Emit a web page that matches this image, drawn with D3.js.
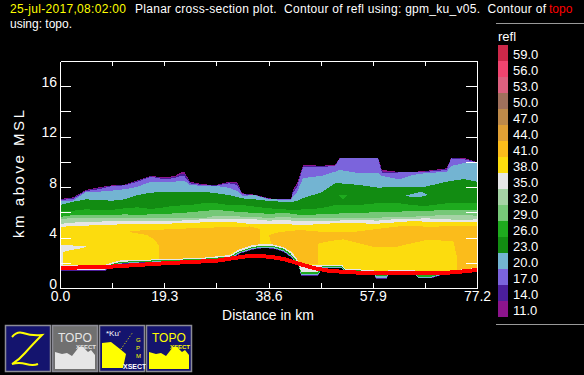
<!DOCTYPE html>
<html>
<head>
<meta charset="utf-8">
<style>
  html, body { margin: 0; padding: 0; background: #000; overflow: hidden; }
  svg { display: block; }
  text { font-family: "Liberation Sans", sans-serif; fill: #fff; white-space: pre; }
</style>
<script src="https://cdn.jsdelivr.net/npm/d3@7"></script>
</head>
<body>
<svg width="584" height="375"></svg>
<script>
// legend
const levels = ["59.0","56.0","53.0","50.0","47.0","44.0","41.0","38.0","35.0","32.0","29.0","26.0","23.0","20.0","17.0","14.0","11.0"]
const levelColors = ["#CC2849","#F0446F","#DC607F","#A0705C","#BE8A4A","#E0A035","#FBBC1B","#FCDC0E","#E6E6E6","#A5D3A5","#76C878","#1EAA1E","#128C12","#73B4D2","#7B64DC","#4B1E9B","#8C148C"]

// distance along the section (km) where the band tops were read
const dist = [0,2.4,4.8,7.2,9.6,12,14.4,16.8,19.3,21.3,22.2,23,24.1,26.5,28.9,31.3,32.8,33.7,36.1,38.7,41.1,42.8,43.1,43.9,45,48.3,50.9,51.8,55.5,58.9,59.6,62.8,65.2,67.6,71.6,72.4,74.8,77.2]

// top of each reflectivity band, km above MSL
const top11 = [7.06,7.18,7.77,7.99,8.14,8.19,8.56,8.88,8.78,8.88,9.14,9.2,8.43,8.22,8.17,8.43,8.43,7.51,7.4,7.11,7.03,7.03,7.77,8.33,9.75,9.7,9.75,10.31,10.31,10.31,9.36,9.2,9.2,9.28,9.49,10.31,10.31,9.97]
const top14 = [7.02,7.14,7.73,7.93,8.11,8.17,8.51,8.85,8.7,8.8,9.0,9.08,8.37,8.18,8.14,8.37,8.33,7.47,7.37,7.09,7.03,7.03,7.69,8.17,9.67,9.66,9.71,10.29,10.29,10.29,9.24,9.17,9.17,9.24,9.44,10.29,10.26,9.96]
const top17 = [6.98,7.06,7.69,7.83,8.09,8.14,8.43,8.83,8.62,8.72,8.88,8.88,8.3,8.14,8.12,8.3,8.17,7.43,7.37,7.07,7.02,7.02,7.53,8.01,9.6,9.6,9.67,10.27,10.27,10.27,9.12,9.16,9.16,9.2,9.36,10.27,10.21,9.95]
const top20 = [6.9,6.92,7.61,7.64,7.72,7.83,8.03,8.43,8.41,8.43,8.49,8.49,8.17,8.09,8.09,7.95,7.69,7.32,7.35,7.03,7.01,7.01,7.24,7.61,8.72,8.88,9.22,9.36,9.1,9.14,8.88,8.62,8.96,9.1,9.22,9.67,9.91,9.89]
const top23 = [6.58,6.84,7.03,6.98,6.92,7.03,7.37,7.56,7.61,7.64,7.64,7.64,7.64,7.64,7.51,7.37,7.22,7.11,7.03,6.9,6.84,6.84,6.84,6.9,7.14,7.56,8.3,8.3,8.17,7.95,7.97,8.03,7.99,8.03,8.43,8.49,8.64,8.43]
const top26 = [6.11,6.13,6.24,6.19,6.19,6.32,6.4,6.26,6.4,6.53,6.54,6.56,6.58,6.72,6.72,6.58,6.58,6.58,6.45,6.32,6.24,6.2,6.19,6.19,6.24,6.32,6.58,6.58,6.58,6.74,6.74,6.72,6.58,6.5,6.72,6.72,6.72,6.72]
const top29 = [5.63,5.79,5.79,5.79,5.79,5.84,5.79,5.84,5.87,5.92,5.95,5.97,6.0,6.11,6.19,6.11,6.03,6.0,5.97,5.87,5.95,5.9,5.87,5.83,5.79,5.84,5.87,5.91,5.92,6.05,6.05,6.05,6.11,6.11,6.19,6.19,6.19,6.19]
const top32 = [5.47,5.55,5.57,5.55,5.55,5.57,5.57,5.57,5.57,5.53,5.53,5.53,5.53,5.53,5.73,5.71,5.69,5.65,5.65,5.53,5.67,5.6,5.55,5.55,5.53,5.53,5.53,5.53,5.53,5.53,5.59,5.65,5.65,5.71,5.79,5.79,5.79,5.73]
const top35 = [5.08,5.18,5.26,5.26,5.31,5.34,5.34,5.34,5.34,5.34,5.34,5.37,5.39,5.45,5.45,5.45,5.45,5.45,5.45,5.34,5.39,5.35,5.34,5.34,5.31,5.34,5.34,5.35,5.39,5.34,5.39,5.47,5.47,5.53,5.45,5.43,5.39,5.45]
const top38 = [4.84,4.92,4.94,5.0,5.0,5.08,5.08,5.08,5.08,5.13,5.13,5.13,5.13,5.21,5.21,5.26,5.19,5.13,5.08,5.08,5.11,5.05,5.0,5.0,4.97,5.08,5.13,5.13,5.13,5.08,5.15,5.21,5.31,5.26,5.23,5.23,5.26,5.21]

// echo bottom above the terrain, same idea going outward to inward
const baseDist = [0,8.3,9.6,11.1,13.9,25.9,31.5,33.3,35.7,37.6,39.4,41.3,42.6,43.5,44.2,44.6,47.8,48.5,52.2,52.8,58.1,58.5,60.5,60.9,65.5,66.3,68.9,71.3,77.2]
const base35 = [1.82,1.82,2.02,2.18,2.22,2.38,2.62,3.09,3.41,3.49,3.45,3.25,2.93,2.54,2.06,1.82,1.82,1.86,1.86,1.51,1.43,1.27,1.27,1.43,1.43,1.27,1.27,1.35,1.59]
const base26 = [1.43,1.43,1.9,2.06,2.14,2.3,2.5,2.93,3.25,3.37,3.33,3.13,2.78,2.34,1.9,1.27,1.27,1.74,1.74,1.43,1.35,1.11,1.11,1.35,1.35,1.03,1.03,1.27,1.51]
const base20 = [1.43,1.43,1.82,1.98,2.06,2.22,2.38,2.85,3.17,3.28,3.25,3.01,2.62,2.22,1.82,1.11,1.11,1.67,1.67,1.35,1.27,0.95,0.95,1.27,1.27,0.91,0.91,1.19,1.43]
const base14 = [1.43,1.43,1.77,1.93,2.01,2.18,2.3,2.78,3.09,3.21,3.17,2.93,2.54,2.14,1.78,1.03,1.03,1.59,1.59,1.31,1.23,0.79,0.79,1.23,1.23,0.83,0.83,1.15,1.39]
const baseNone = [1.35,1.35,1.72,1.88,1.96,2.14,2.24,2.72,3.04,3.15,3.12,2.88,2.48,2.09,1.74,0.99,0.99,1.55,1.55,1.27,1.19,0.71,0.71,1.19,1.19,0.79,0.79,1.11,1.35]

// closed contours inside the bands
const orangeLeftDist = [12.4,14.8,19.4,25.5,35.2,37,37,34.4,32.4,31.1,25.9,18.3,18.3,17.6,16.1]
const orangeLeftKm = [4.46,4.56,4.64,4.76,4.88,4.68,3.28,3.17,2.93,2.62,2.34,2.18,3.33,3.81,4.2]
const orangeRightDist = [38.7,40.7,44.4,50,54.2,60.2,63.5,68.5,77.2,77.2,73.5,73.5,72.8,71.6,67.9,62.4,57.9,54.2,52.4,50,47.8,47.8,45,43.9,43.1,41.3,39.2]
const orangeRightKm = [4.2,4.44,4.6,4.4,4.44,4.76,4.92,4.86,4.94,1.43,1.43,2.46,3.73,3.75,3.81,3.28,3.28,3.67,3.86,3.73,3.51,1.9,1.9,2.14,2.88,3.25,3.28]
const whitePatchDist = [0,2.8,5.2,3.7,1.9,0.6,0.6,0]
const whitePatchKm = [3.43,3.36,3.28,3.13,3.01,2.85,1.82,1.82]
const blueLensDist = [64.1,65.9,66.8,68.1,66.6,64.8]
const blueLensKm = [7.34,7.53,7.65,7.37,7.22,7.22]
const greenSpotDist = [51.5,53.3,52.4]
const greenSpotKm = [7.41,7.41,6.98]

// terrain contour
const topoDist = [0,9.3,19.3,28.9,35.2,38.9,41.6,44.4,47.2,50,55.5,62.9,65.7,70.3,74,77.2]
const topoKm = [1.59,1.69,1.96,2.16,2.56,2.48,2.28,1.9,1.56,1.35,1.21,1.21,1.16,1.16,1.29,1.43]

const xTicks = [0,9.65,19.3,28.95,38.6,48.25,57.9,67.55,77.2]
const xLabels = ["0.0","","19.3","","38.6","","57.9","","77.2"]
const yTicks = [2,4,6,8,10,12,14,16]
const yLabels = [0,4,8,12,16]

const color = d3.scaleOrdinal().domain(levels).range(levelColors)
const xScale = d3.scaleLinear().domain([0, 77.2]).range([60, 477])
const yScale = d3.scaleLinear().domain([0, 18]).range([288, 61])
const svg = d3.select("svg")

svg.append("clipPath").attr("id", "plotClip").append("rect")
    .attr("x", 60).attr("y", 61).attr("width", 417).attr("height", 227)

const plot = svg.append("g").attr("clip-path", "url(#plotClip)")
    .attr("shape-rendering", "crispEdges")

const bandArea = d3.area().x(d => xScale(d[0])).y0(yScale(0)).y1(d => yScale(d[1]))
const closedLine = d3.line().x(d => xScale(d[0])).y(d => yScale(d[1])).curve(d3.curveLinearClosed)

// tops: paint from the outermost band down
const bands = [["11.0",top11],["14.0",top14],["17.0",top17],["20.0",top20],["23.0",top23],["26.0",top26],["29.0",top29],["32.0",top32],["35.0",top35],["38.0",top38]]
plot.selectAll("path.band")
    .data(bands)
    .enter()
    .append("path")
    .attr("class", "band")
    .attr("d", d => bandArea(d3.zip(dist, d[1])))
    .style("fill", d => color(d[0]))

const patches = [
    ["41.0", orangeLeftDist, orangeLeftKm],
    ["41.0", orangeRightDist, orangeRightKm],
    ["35.0", whitePatchDist, whitePatchKm],
    ["20.0", blueLensDist, blueLensKm],
    ["26.0", greenSpotDist, greenSpotKm]
]
plot.selectAll("path.patch")
    .data(patches)
    .enter()
    .append("path")
    .attr("class", "patch")
    .attr("d", d => closedLine(d3.zip(d[1], d[2])))
    .style("fill", d => color(d[0]))

// bottoms: the rings around the echo edge, black last
const bases = [["#E6E6E6",base35],["#1EAA1E",base26],["#73B4D2",base20],["#4B1E9B",base14],["#000",baseNone]]
plot.selectAll("path.base")
    .data(bases)
    .enter()
    .append("path")
    .attr("class", "base")
    .attr("d", d => bandArea(d3.zip(baseDist, d[1])))
    .style("fill", d => d[0])

plot.append("path")
    .attr("d", d3.line().x(d => xScale(d[0])).y(d => yScale(d[1]))(d3.zip(topoDist, topoKm)))
    .style("fill", "none")
    .style("stroke", "#FF0000")
    .style("stroke-width", "4px")

// axes
const axisBottom = d3.axisBottom(xScale).tickValues(xTicks).tickSizeInner(-5).tickSizeOuter(0)
    .tickPadding(3).tickFormat((d, i) => xLabels[i])
const axisTop = d3.axisTop(xScale).tickValues(xTicks.slice(1, -1)).tickSizeInner(-5).tickSizeOuter(0).tickFormat("")
const axisLeft = d3.axisLeft(yScale).tickValues(yTicks.concat(0)).tickSizeInner(-11).tickSizeOuter(0)
    .tickPadding(3).tickFormat(d => yLabels.includes(d) ? d : "")
const axisRight = d3.axisRight(yScale).tickValues(yTicks).tickSizeInner(-11).tickSizeOuter(0).tickFormat("")

svg.append("g").attr("transform", "translate(0,288)").call(axisBottom)
svg.append("g").attr("transform", "translate(0,61)").call(axisTop)
svg.append("g").attr("transform", "translate(60,0)").call(axisLeft)
svg.append("g").attr("transform", "translate(477,0)").call(axisRight)

svg.selectAll(".domain").style("stroke", "#fff").attr("shape-rendering", "crispEdges")
svg.selectAll(".tick line").style("stroke", "#fff").attr("shape-rendering", "crispEdges")
svg.selectAll(".tick text").style("font-size", "14px").style("fill", "#fff").style("font-family", "'Liberation Sans'")
svg.selectAll(".tick text").filter(function () { return this.getAttribute("dy") === "0.32em" })
    .attr("dy", "0").attr("y", 0)

svg.append("text")
    .attr("x", 268).attr("y", 320)
    .style("text-anchor", "middle").style("font-size", "14px")
    .text("Distance in km")

svg.append("text")
    .attr("transform", "translate(24,174) rotate(-90)")
    .attr("textLength", 128).attr("lengthAdjust", "spacing")
    .style("text-anchor", "middle").style("font-size", "15px")
    .text("km above MSL")

// title
svg.append("text").attr("x", 10).attr("y", 13).style("font-size", "12px").style("fill", "#FFFF00")
    .attr("textLength", 116).text("25-jul-2017,08:02:00")
svg.append("text").attr("x", 135).attr("y", 13).style("font-size", "12px")
    .attr("textLength", 411).text("Planar cross-section plot.  Contour of refl using: gpm_ku_v05.  Contour of")
svg.append("text").attr("x", 549).attr("y", 13).style("font-size", "12px").style("fill", "#FF0000")
    .text("topo")
svg.append("text").attr("x", 10).attr("y", 28).style("font-size", "12px")
    .text("using: topo.")

// color legend
svg.selectAll("line.rule")
    .data([23.5, 324.5])
    .enter()
    .append("line")
    .attr("class", "rule")
    .attr("x1", 496).attr("x2", 584)
    .attr("y1", d => d).attr("y2", d => d)
    .style("stroke", "#999")

svg.append("text").attr("x", 498).attr("y", 41).style("font-size", "13px").text("refl")

const legendScale = d3.scaleBand().domain(levels).range([45, 317])
svg.selectAll("rect.swatch")
    .data(levels)
    .enter()
    .append("rect")
    .attr("class", "swatch")
    .attr("x", 498).attr("width", 10)
    .attr("y", d => legendScale(d))
    .attr("height", legendScale.bandwidth())
    .style("fill", d => color(d))
svg.selectAll("text.level")
    .data(levels)
    .enter()
    .append("text")
    .attr("class", "level")
    .attr("x", 513)
    .attr("y", d => legendScale(d) + 14)
    .style("font-size", "13px")
    .text(d => d)

// product buttons along the bottom
const buttons = [["z", "#14146E"], ["topoGrey", "#707070"], ["ku", "#14146E"], ["topoYellow", "#14146E"]]
const buttonScale = d3.scaleBand().domain(buttons.map(d => d[0])).range([5, 193])

const buttonG = svg.selectAll("g.button")
    .data(buttons)
    .enter()
    .append("g")
    .attr("class", "button")
    .attr("transform", d => `translate(${buttonScale(d[0])},325)`)
    .each(function (d) {
        const g = d3.select(this)
        g.append("rect")
            .attr("x", 0.5).attr("y", 0.5).attr("width", 45).attr("height", 46)
            .style("fill", d[1]).style("stroke", "#8C8C96").style("stroke-width", "1.5px")

        if (d[0] === "z") {
            g.append("path")
                .attr("d", "M7 12 Q12 6 18 8 Q27 11 37 10 Q27 20 20 28 Q14 35 7 39 Q14 37 21 39 Q28 41 33 39")
                .style("fill", "none").style("stroke", "#FFFF00").style("stroke-width", "2px")
        } else if (d[0] === "ku") {
            g.append("path")
                .attr("d", "M3 18 L12 17 L21 24 L27 29 L24 43 L3 43 Z")
                .style("fill", "#FFFF00")
            g.append("path")
                .attr("d", "M22 24 L34 7")
                .style("stroke", "#FFFF00").style("stroke-dasharray", "1 2")
            g.append("text").attr("x", 7).attr("y", 11).style("font-size", "8px").text("*Ku'")
            g.append("text").attr("x", 24).attr("y", 44).style("font-size", "7px").style("font-weight", "bold").text("XSECT")
            g.append("text").attr("x", 37).attr("y", 17).style("font-size", "6px").style("fill", "#FFFF00").text("G")
            g.append("text").attr("x", 37).attr("y", 25).style("font-size", "6px").style("fill", "#FFFF00").text("P")
            g.append("text").attr("x", 37).attr("y", 33).style("font-size", "6px").style("fill", "#FFFF00").text("M")
        } else {
            const ink = d[0] === "topoGrey" ? "#E6E6E6" : "#FFFF00"
            g.append("path")
                .attr("d", "M3 44 L3 27 L10 29 L15 28 L20 31 L27 22 L31 22 L36 27 L39 25 L43 30 L43 44 Z")
                .style("fill", ink)
            g.append("text").attr("x", 6).attr("y", 17).style("font-size", "12px").style("fill", ink).text("TOPO")
            g.append("text").attr("x", 24).attr("y", 24).style("font-size", "6px").style("font-weight", "bold").style("fill", ink).text("XSECT")
        }
    })
</script>
</body>
</html>
